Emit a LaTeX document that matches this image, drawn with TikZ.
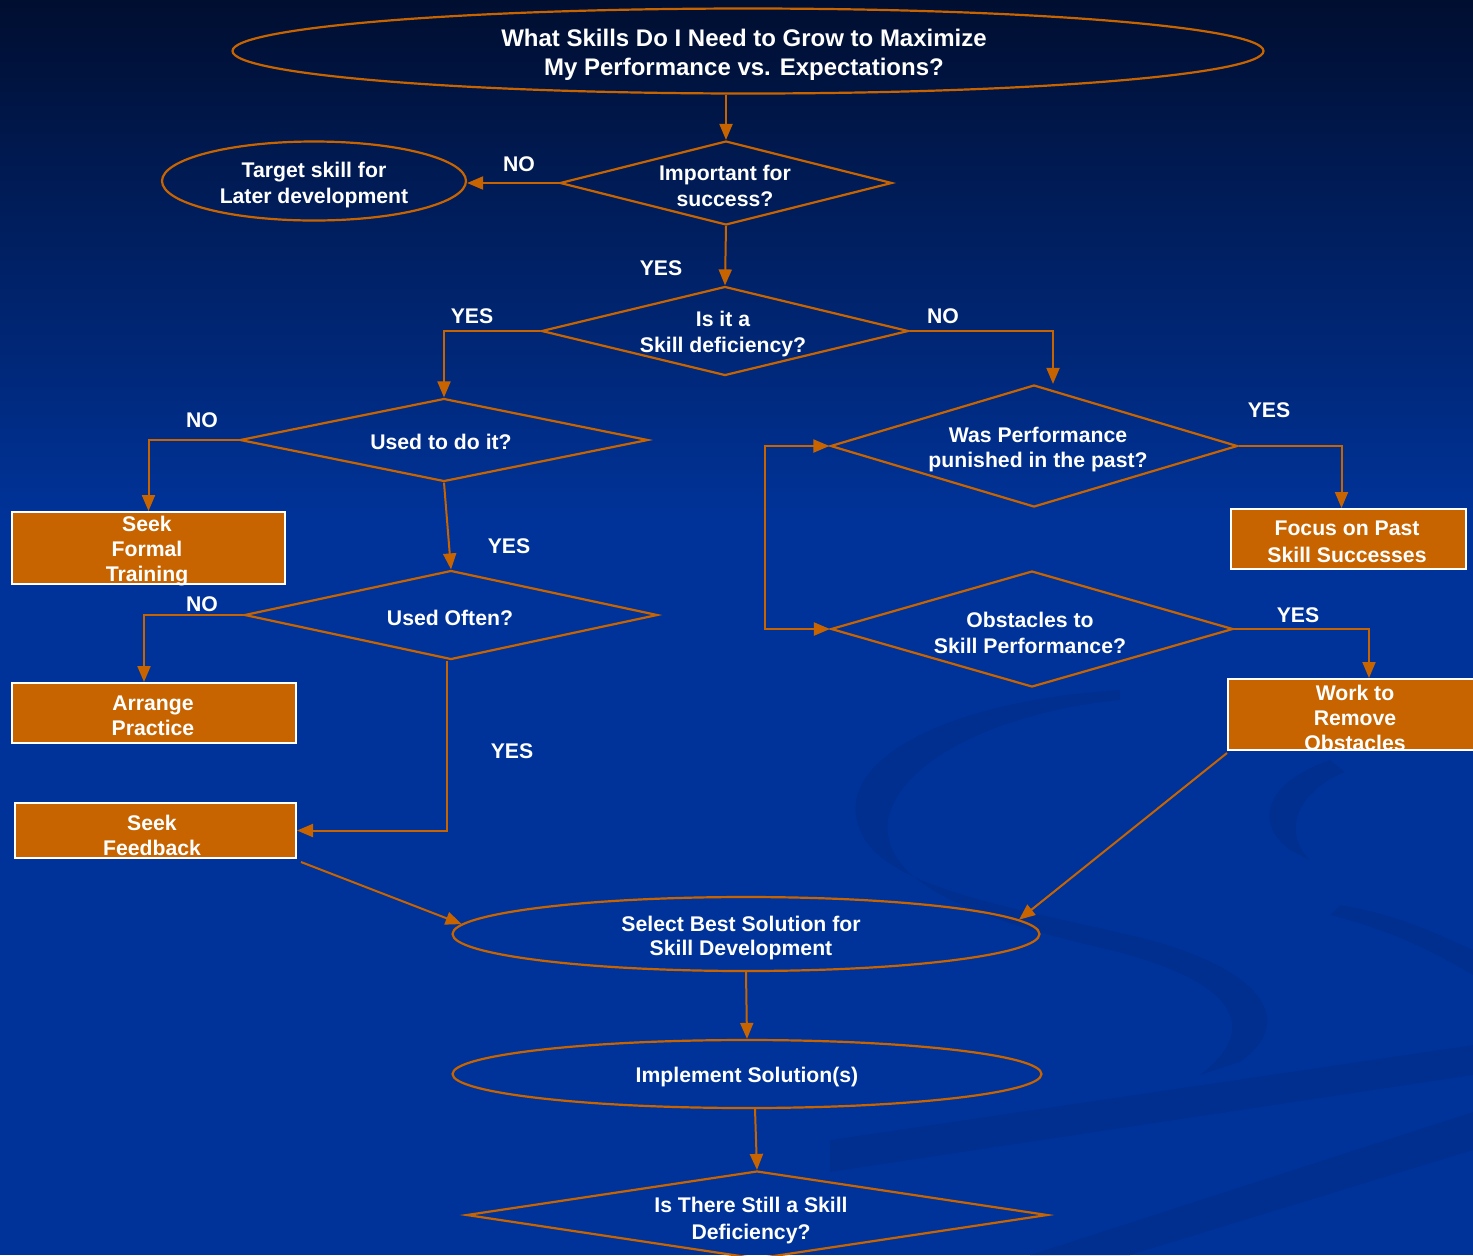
\documentclass[tikz,border=0pt]{standalone}
\usepackage{fontspec}
\setmainfont{Liberation Sans}
\usetikzlibrary{shapes.geometric,arrows.meta}
\definecolor{org}{RGB}{200,100,0}
\definecolor{bgblue}{RGB}{0,51,153}
\definecolor{bgtop}{RGB}{0,14,48}
\definecolor{bgmid}{RGB}{0,38,120}
\definecolor{swirl}{RGB}{0,47,144}
\begin{document}
\begin{tikzpicture}[x=0.5pt,y=-0.5pt,
  line width=1pt,
  arr/.style={draw=org, line width=1pt, -{Triangle[length=8pt,width=6.5pt]}},
  biarr/.style={draw=org, line width=1pt, {Triangle[length=8pt,width=6.5pt]}-{Triangle[length=8pt,width=6.5pt]}},
  oval/.style={ellipse, draw=org, line width=1.1pt, inner sep=0pt},
  dia/.style={diamond, draw=org, line width=1.1pt, inner sep=0pt},
  box/.style={rectangle, draw=white, fill=org, line width=1pt, inner sep=0pt},
  txt/.style={text=white, font=\fontsize{10.6}{13}\selectfont\bfseries, align=center, inner sep=0pt},
  btxt/.style={text=white, font=\fontsize{10.6}{12.5}\selectfont\bfseries, align=center, inner sep=0pt},
  lbl/.style={text=white, font=\fontsize{10.6}{13}\selectfont\bfseries, inner sep=0pt},
]
\useasboundingbox (0,0) rectangle (1473,1255);
% background
\shade[top color=bgtop, middle color=bgmid, bottom color=bgblue] (0,0) rectangle (1473,520);
\fill[bgblue] (0,519) rectangle (1473,1255);
% faint decorative swirls
\fill[swirl] (1120,690) .. controls (950,700) and (830,760) .. (860,830)
  .. controls (880,885) and (1000,905) .. (1130,935)
  .. controls (1260,965) and (1300,1020) .. (1240,1062)
  -- (1200,1075) .. controls (1265,1025) and (1230,980) .. (1110,950)
  .. controls (980,920) and (880,885) .. (888,820)
  .. controls (900,760) and (1000,712) .. (1120,700) -- cycle;
\fill[swirl] (1330,760) .. controls (1270,780) and (1250,820) .. (1290,850)
  -- (1310,860) .. controls (1280,830) and (1300,790) .. (1345,772) -- cycle;
\fill[swirl] (1340,905) .. controls (1400,915) and (1440,935) .. (1473,950)
  -- (1473,975) .. controls (1430,950) and (1390,930) .. (1330,915) -- cycle;
\fill[swirl] (830,1140) -- (1473,1045) -- (1473,1075) -- (830,1172) -- cycle;
\fill[swirl] (1030,1255) -- (1473,1112) -- (1473,1150) -- (1130,1255) -- cycle;

% nodes
\node[oval, minimum width=515.5pt, minimum height=42.5pt] (top) at (748,51) {};
\node[txt, font=\fontsize{12}{14.5}\selectfont\bfseries] (topT) at (744,55)
  {What Skills Do I Need to Grow to Maximize\\My Performance vs. Expectations?};
\node[oval, minimum width=152pt, minimum height=39.5pt] (target) at (314,181) {};
\node[txt] (targetT) at (314,185) {Target skill for\\Later development};

\node[dia, minimum width=166pt, minimum height=42pt] (imp) at (726,183) {};
\node[txt] (impT) at (725,186) {Important for\\success?};

\node[dia, minimum width=183.5pt, minimum height=44.5pt] (def) at (725,331) {};
\node[txt] (defT) at (723,334) {Is it a\\Skill deficiency?};

\node[dia, minimum width=204pt, minimum height=41.5pt] (used) at (444,440) {};
\node[txt] (usedT) at (441,442) {Used to do it?};

\node[dia, minimum width=206.5pt, minimum height=44.5pt] (often) at (451,615) {};
\node[txt] (oftenT) at (450,618) {Used Often?};

\node[dia, minimum width=203.5pt, minimum height=61pt] (was) at (1034,446) {};
\node[txt, font=\fontsize{10.6}{12.5}\selectfont\bfseries] (wasT) at (1038,450) {Was Performance\\punished in the past?};

\node[dia, minimum width=201pt, minimum height=58pt] (obst) at (1032,629) {};
\node[txt] (obstT) at (1030,633) {Obstacles to\\Skill Performance?};

\node[box, minimum width=136.5pt, minimum height=36pt] (formal) at (148.5,548) {};
\node[btxt] (formalT) at (147,551) {Seek\\Formal\\Training};

\node[box, minimum width=142pt, minimum height=30pt] (arrange) at (154,713) {};
\node[btxt] (arrangeT) at (153,716) {Arrange\\Practice};

\node[box, minimum width=140.5pt, minimum height=27.5pt] (feedback) at (155.5,830.5) {};
\node[btxt] (feedbackT) at (152,835) {Seek\\Feedback};

\node[box, minimum width=117.5pt, minimum height=30pt] (focus) at (1348.5,539) {};
\node[btxt, font=\fontsize{10.6}{13.5}\selectfont\bfseries] (focusT) at (1347,542) {Focus on Past\\Skill Successes};

\node[box, minimum width=127pt, minimum height=35.5pt] (work) at (1355,714.5) {};
\node[btxt] (workT) at (1355,718) {Work to\\Remove\\Obstacles};

\node[oval, minimum width=293.5pt, minimum height=37pt] (select) at (746,934) {};
\node[txt, font=\fontsize{10.6}{12}\selectfont\bfseries] (selectT) at (741,938) {Select Best Solution for\\Skill Development};
\node[oval, minimum width=294.5pt, minimum height=34pt] (impl) at (747,1074) {};
\node[txt] (implT) at (747,1077) {Implement Solution(s)};

\node[dia, minimum width=290.5pt, minimum height=44pt] (still) at (757,1215) {};
\node[txt, font=\fontsize{10.6}{13.5}\selectfont\bfseries] (stillT) at (751,1220) {Is There Still a Skill\\Deficiency?};

% labels
\node[lbl] (l1) at (519,164) {NO};
\node[lbl] (l2) at (661,268) {YES};
\node[lbl] (l3) at (472,316) {YES};
\node[lbl] (l4) at (943,316) {NO};
\node[lbl] (l5) at (202,420) {NO};
\node[lbl] (l6) at (509,546) {YES};
\node[lbl] (l7) at (202,604) {NO};
\node[lbl] (l8) at (512,751) {YES};
\node[lbl] (l9) at (1269,410) {YES};
\node[lbl] (l10) at (1298,615) {YES};

% connectors
\draw[arr] (imp.north |- top.south) -- (imp.north);
\draw[arr] (imp.west) -- (imp.west -| target.east);
\draw[arr] (imp.south) -- (def.north);
\draw[arr] (def.west) -| (used.north);
\draw[arr] (def.east) -| ([xshift=9.5pt]was.north);
\draw[arr] (used.west) -| (formal.north);
\draw[arr] (used.south) -- (often.north);
\draw[arr] (often.west) -| ([xshift=-5pt]arrange.north);
\draw[arr] ([xshift=-2pt]often.south) |- (feedback.east);
\draw[arr] ([xshift=2pt,yshift=-1.5pt]feedback.south east) -- (select.178);
\draw[arr] (was.east) -| ([xshift=-3.5pt]focus.north);
\draw[arr] (obst.east) -| ([xshift=7pt]work.north);
\draw[arr] ([yshift=-1pt]work.south west) -- (select.3);
\draw[biarr] (was.west) -- ++(-64,0) |- (obst.west);
\draw[arr] (select.south) -- (impl.north);
\draw[arr] ([xshift=4pt]impl.south) -- (still.north);
\end{tikzpicture}
\end{document}
